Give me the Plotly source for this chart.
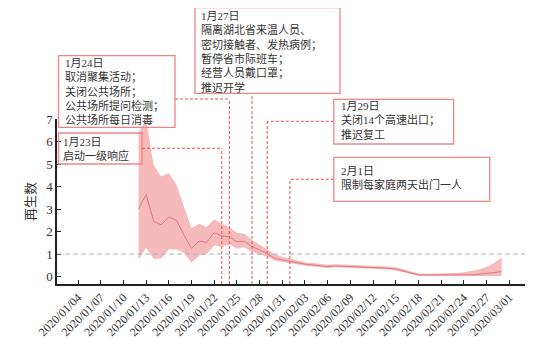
import plotly.graph_objects as go
import pandas as pd

# ---------------- data ----------------
dates = pd.date_range("2020-01-12", "2020-02-29", freq="D")
r_mean = [3.0, 3.65, 2.45, 2.3, 2.65, 2.5, 1.85, 1.25, 1.58, 1.52,
          1.95, 1.8, 1.78, 1.55, 1.57, 1.33, 1.18, 1.03, 0.81, 0.74,
          0.68, 0.60, 0.55, 0.52, 0.48, 0.44, 0.47, 0.46, 0.44, 0.43,
          0.42, 0.40, 0.39, 0.37, 0.33, 0.24, 0.17, 0.08, 0.07, 0.07,
          0.07, 0.06, 0.06, 0.07, 0.08, 0.10, 0.13, 0.17, 0.22]
r_upper = [6.4, 6.95, 4.95, 4.45, 4.6, 4.1, 3.1, 2.15, 2.35, 2.2,
           2.55, 2.35, 2.2, 1.95, 1.9, 1.62, 1.42, 1.2, 0.98, 0.88,
           0.80, 0.70, 0.64, 0.60, 0.56, 0.52, 0.55, 0.54, 0.52, 0.51,
           0.50, 0.48, 0.47, 0.45, 0.41, 0.32, 0.24, 0.14, 0.13, 0.13,
           0.13, 0.14, 0.16, 0.19, 0.24, 0.31, 0.42, 0.60, 0.85]
r_lower = [0.75, 1.28, 0.78, 0.8, 1.2, 1.2, 1.05, 0.62, 0.92, 1.0,
           1.38, 1.33, 1.42, 1.25, 1.3, 1.1, 0.98, 0.88, 0.70, 0.64,
           0.58, 0.52, 0.48, 0.45, 0.42, 0.38, 0.41, 0.40, 0.38, 0.37,
           0.36, 0.34, 0.33, 0.31, 0.27, 0.18, 0.11, 0.03, 0.03, 0.03,
           0.03, 0.02, 0.02, 0.02, 0.02, 0.02, 0.02, 0.02, 0.02]

tick_labels = ["2020/01/04", "2020/01/07", "2020/01/10", "2020/01/13",
               "2020/01/16", "2020/01/19", "2020/01/22", "2020/01/25",
               "2020/01/28", "2020/01/31", "2020/02/03", "2020/02/06",
               "2020/02/09", "2020/02/12", "2020/02/15", "2020/02/18",
               "2020/02/21", "2020/02/24", "2020/02/27", "2020/03/01"]
y_ticks = [0, 1, 2, 3, 4, 5, 6, 7]
threshold = 1

event_dates = ["2020-01-23", "2020-01-24", "2020-01-27", "2020-01-29", "2020-02-01"]
event_texts = [
    ["1月23日", "启动一级响应"],
    ["1月24日", "取消聚集活动；", "关闭公共场所；", "公共场所提问检测；", "公共场所每日消毒"],
    ["1月27日", "隔离湖北省来温人员、", "密切接触者、发热病例；", "暂停省市际班车；",
     "经营人员戴口罩；", "推迟开学"],
    ["1月29日", "关闭14个高速出口；", "推迟复工"],
    ["2月1日", "限制每家庭两天出门一人"],
]

# ---------------- layout geometry (pixels in the 549x345 window) ----------------
W, H = 549, 345
OFF = 8  # default page body margin
PL, PR, PT, PB = 57, 525, 119, 284
X_START = pd.Timestamp("2020-01-01 05:15")
X_END = pd.Timestamp("2020-03-03 02:00")

def px2date(px):
    return X_START + (X_END - X_START) * ((px - PL) / (PR - PL))

def pyp(py):
    return (PB - py) / (PB - PT)

def pxp(px):
    return (px - PL) / (PR - PL)

# box rects (x0, x1, y0, y1) in px, text left x, first line center y
boxes = [
    (58.5, 142, 133, 164, 60.5, 142.7),
    (58.5, 175, 55.7, 127.3, 62.5, 64.3),
    (195, 340, 7.7, 93.3, 198.5, 16.7),
    (333.8, 453.6, 99.3, 144, 338.5, 107.3),
    (333.8, 489.7, 157.3, 201.3, 338.5, 171.7),
]
connectors = [
    (148.3, 142),
    (99, 175),
    (None, None),
    (121.3, 333.8),
    (179.3, 333.8),
]
vert_top = [148.3, 99, 93.3, 121.3, 179.3]

FONT = "Liberation Serif, Noto Sans CJK SC, serif"
ANN_SIZE = 11
BOX_COL = "#f08585"
DASH_COL = "#f24a4a"

fig = go.Figure()
fig.add_trace(go.Scatter(x=dates, y=r_upper, mode="lines", line=dict(width=0),
                         showlegend=False, hoverinfo="skip"))
fig.add_trace(go.Scatter(x=dates, y=r_lower, mode="lines", line=dict(width=0),
                         fill="tonexty", fillcolor="rgba(240,130,130,0.55)",
                         showlegend=False, hoverinfo="skip"))
fig.add_trace(go.Scatter(x=dates, y=r_mean, mode="lines",
                         line=dict(color="#d97a84", width=1), showlegend=False))

shapes = []
shapes.append(dict(type="line", xref="paper", yref="y", x0=0, x1=1,
                   y0=threshold, y1=threshold,
                   line=dict(color="#b0b0b0", width=1, dash="5px,3px")))
annotations = []
for i, ev in enumerate(event_dates):
    shapes.append(dict(type="line", xref="x", yref="paper", x0=ev, x1=ev,
                       y0=0, y1=pyp(vert_top[i]),
                       line=dict(color=DASH_COL, width=1, dash="3px,2px")))
    hy, ex = connectors[i]
    if hy is not None:
        shapes.append(dict(type="line", xref="x", yref="paper",
                           x0=px2date(ex), x1=ev, y0=pyp(hy), y1=pyp(hy),
                           line=dict(color=DASH_COL, width=1, dash="3px,2px")))
    bx0, bx1, by0, by1, tx, ly0 = boxes[i]
    shapes.append(dict(type="rect", xref="paper", yref="paper",
                       x0=pxp(bx0), x1=pxp(bx1), y0=pyp(by1), y1=pyp(by0),
                       line=dict(color=BOX_COL, width=1.3),
                       fillcolor="rgba(0,0,0,0)"))
    annotations.append(dict(text="<br>".join(event_texts[i]), xref="paper", yref="paper",
                            x=pxp(tx), y=pyp(ly0 - 0.65 * ANN_SIZE - 2),
                            xanchor="left", yanchor="top", align="left",
                            showarrow=False,
                            font=dict(family=FONT, size=ANN_SIZE, color="#333333")))

fig.update_layout(
    width=W - OFF, height=H - OFF,
    margin=dict(l=PL - OFF, r=W - PR, t=PT - OFF, b=H - PB, autoexpand=False),
    paper_bgcolor="white", plot_bgcolor="white",
    shapes=shapes, annotations=annotations,
    font=dict(family=FONT, size=12, color="#333333"),
)
fig.update_xaxes(
    range=[X_START, X_END], automargin=False,
    tickvals=[pd.Timestamp(t.replace("/", "-")) for t in tick_labels],
    ticktext=tick_labels, tickangle=-45,
    showline=True, linecolor="#222222", linewidth=1.5,
    ticks="inside", ticklen=4, tickcolor="#222222",
    showgrid=False, zeroline=False,
    tickfont=dict(family=FONT, size=12, color="#333333"),
)
fig.update_yaxes(
    range=[-0.33, 7.0], tickvals=y_ticks, automargin=False,
    showline=True, linecolor="#222222", linewidth=1.5,
    ticks="inside", ticklen=4, tickcolor="#222222",
    showgrid=False, zeroline=False,
    title=dict(text="再生数", font=dict(family=FONT, size=13, color="#333333"), standoff=8),
    tickfont=dict(family=FONT, size=13, color="#333333"),
)

fig.write_html("out.html")
